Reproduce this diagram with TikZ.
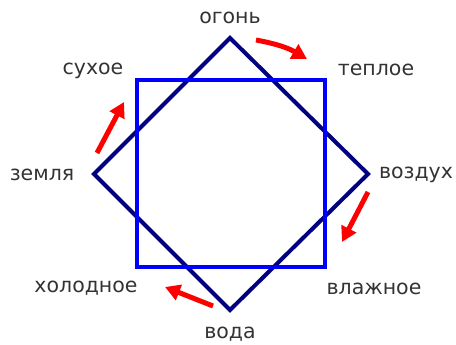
\documentclass[tikz,border=0pt]{standalone}
\usepackage{fontspec}
\setmainfont{DejaVu Sans}
\usetikzlibrary{arrows.meta}

\definecolor{navy}{RGB}{0,0,128}
\definecolor{pureblue}{RGB}{0,0,255}
\definecolor{arrowred}{RGB}{255,0,0}

\begin{document}
\begin{tikzpicture}[x=1pt, y=-1pt,
    lbl/.style={font=\fontsize{20.5}{20.5}\selectfont, text=black!80, inner sep=0pt},
    turn/.style={arrowred, line width=5pt, -{Triangle[length=15pt,width=16pt]}}]
\useasboundingbox (0,0) rectangle (456,345);

% diamond corners
\coordinate (fire)  at (230,38);
\coordinate (air)   at (368,174);
\coordinate (water) at (230,310);
\coordinate (earth) at (94,174);

\draw[navy, line width=4pt, line join=miter] (fire) -- (air) -- (water) -- (earth) -- cycle;
\draw[pureblue, line width=4pt] (137,80) rectangle (325,267);

% labels
\node[lbl] (ogon)    at (230,18)  {огонь};
\node[lbl] (teploe)  at (376,70)  {теплое};
\node[lbl] (vozduh)  at (416,175) {воздух};
\node[lbl] (vlazhn)  at (374,289) {влажное};
\node[lbl] (voda)    at (230,334) {вода};
\node[lbl] (holodn)  at (86,288)  {холодное};
\node[lbl] (zemlya)  at (42,175)  {земля};
\node[lbl] (suhoe)   at (93,71)   {сухое};

% arrows
\coordinate (t1) at (256,40);  \coordinate (h1) at (307,59);
\coordinate (t2) at (368,192); \coordinate (h2) at (342,242);
\coordinate (t3) at (213,306); \coordinate (h3) at (165,287);
\coordinate (t4) at (97,153);  \coordinate (h4) at (124,102);
\draw[turn] (t1) to[bend left=10] (h1);
\draw[turn] (t2) -- (h2);
\draw[turn] (t3) -- (h3);
\draw[turn] (t4) -- (h4);
\end{tikzpicture}
\end{document}
